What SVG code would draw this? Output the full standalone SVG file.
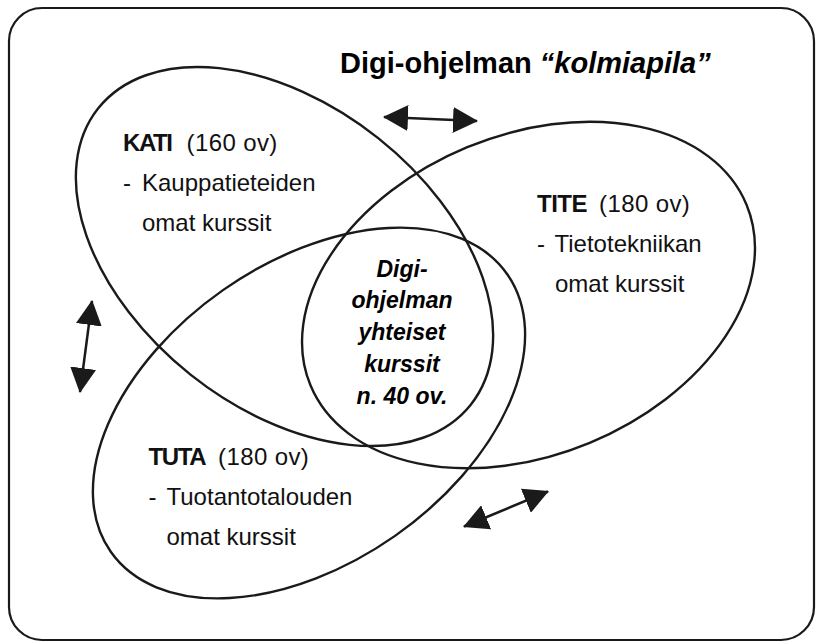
<svg xmlns="http://www.w3.org/2000/svg" width="817" height="643" viewBox="0 0 817 643">
  <style>
    .frame { fill: #ffffff; stroke: #1a1a1a; stroke-width: 2.2; }
    .set { fill: none; stroke: #1a1a1a; stroke-width: 2.4; }
    .lbl { font-family: "Liberation Sans", Arial, sans-serif; font-size: 24px; fill: #111111; }
    .b { font-weight: bold; letter-spacing: -1.4px; }
    .n { letter-spacing: 0.4px; }
    .title { font-family: "Liberation Sans", Arial, sans-serif; font-size: 29px; font-weight: bold; fill: #000000; }
    .core { font-family: "Liberation Sans", Arial, sans-serif; font-size: 23px; font-weight: bold; font-style: italic; fill: #000000; text-anchor: middle; }
    .arrow { fill: none; stroke: #1a1a1a; stroke-width: 2.5; marker-start: url(#head); marker-end: url(#head); }
  </style>
  <defs>
    <marker id="head" markerUnits="userSpaceOnUse" viewBox="0 0 25 26" markerWidth="25" markerHeight="26" refX="24" refY="13" orient="auto-start-reverse">
      <path d="M0,0 L25,13 L0,26 Z" fill="#1a1a1a"/>
    </marker>
  </defs>

  <rect class="frame" x="9" y="8" width="805" height="632" rx="33" ry="33"/>

  <g id="title">
    <text class="title" x="340" y="73">Digi-ohjelman <tspan font-style="italic">“kolmiapila”</tspan></text>
  </g>

  <g id="kati">
    <ellipse class="set" cx="284.5" cy="256.5" rx="238" ry="151" transform="rotate(38.5 284.5 256.5)"/>
    <text class="lbl" x="123" y="151"><tspan class="b">KATI</tspan> <tspan class="n" x="186.5">(160 ov)</tspan></text>
    <text class="lbl" x="123" y="191">- <tspan x="142">Kauppatieteiden</tspan></text>
    <text class="lbl" x="142" y="230.5">omat kurssit</text>
  </g>

  <g id="tite">
    <ellipse class="set" cx="528.5" cy="295" rx="236" ry="160" transform="rotate(-22.5 528.5 295)"/>
    <text class="lbl" x="537" y="211.5"><tspan class="b" style="letter-spacing:-0.5px">TITE</tspan> <tspan class="n" x="599">(180 ov)</tspan></text>
    <text class="lbl" x="537" y="251.5">- <tspan x="554.5">Tietotekniikan</tspan></text>
    <text class="lbl" x="555" y="291.5">omat kurssit</text>
  </g>

  <g id="tuta">
    <ellipse class="set" cx="309" cy="413" rx="242" ry="150" transform="rotate(-35 309 413)"/>
    <text class="lbl" x="148.5" y="465"><tspan class="b">TUTA</tspan> <tspan class="n" x="218">(180 ov)</tspan></text>
    <text class="lbl" x="148.5" y="505">- <tspan x="166.5">Tuotantotalouden</tspan></text>
    <text class="lbl" x="166.5" y="545">omat kurssit</text>
  </g>

  <g id="core">
    <text class="core" x="402" y="277">Digi-</text>
    <text class="core" x="402" y="308">ohjelman</text>
    <text class="core" x="402" y="340">yhteiset</text>
    <text class="core" x="402" y="372">kurssit</text>
    <text class="core" x="402" y="404">n. 40 ov.</text>
  </g>

  <g id="connectors">
    <path class="arrow" d="M384,117 L477,121"/>
    <path class="arrow" d="M92,301 L80,392"/>
    <path class="arrow" d="M464,526.5 L548,491.5"/>
  </g>
</svg>
